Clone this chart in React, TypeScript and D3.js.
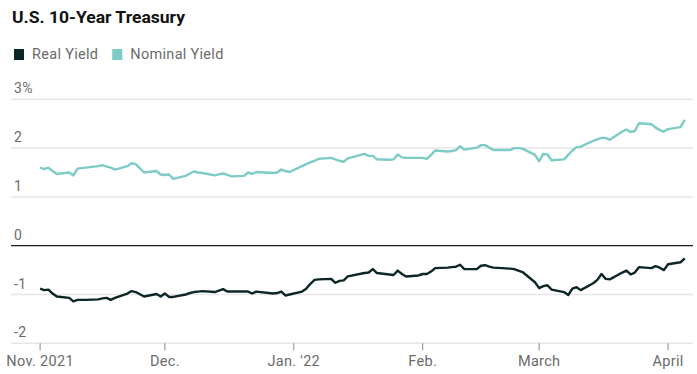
import { useEffect, useRef } from 'react';
import * as d3 from 'd3';

// trading days, Nov 1 2021 - Apr 5 2022
const dates = [
  '2021-11-01', '2021-11-02', '2021-11-03', '2021-11-04', '2021-11-05', '2021-11-08', '2021-11-09', '2021-11-10',
  '2021-11-12', '2021-11-15', '2021-11-16', '2021-11-17', '2021-11-18', '2021-11-19', '2021-11-22', '2021-11-23',
  '2021-11-24', '2021-11-26', '2021-11-29', '2021-11-30',
  '2021-12-01', '2021-12-02', '2021-12-03', '2021-12-06', '2021-12-07', '2021-12-08', '2021-12-09', '2021-12-10',
  '2021-12-13', '2021-12-14', '2021-12-15', '2021-12-16', '2021-12-17', '2021-12-20', '2021-12-21', '2021-12-22',
  '2021-12-23', '2021-12-27', '2021-12-28', '2021-12-29', '2021-12-30', '2021-12-31',
  '2022-01-03', '2022-01-04', '2022-01-05', '2022-01-06', '2022-01-07', '2022-01-10', '2022-01-11', '2022-01-12',
  '2022-01-13', '2022-01-14', '2022-01-18', '2022-01-19', '2022-01-20', '2022-01-21', '2022-01-24', '2022-01-25',
  '2022-01-26', '2022-01-27', '2022-01-28', '2022-01-31',
  '2022-02-01', '2022-02-02', '2022-02-03', '2022-02-04', '2022-02-07', '2022-02-08', '2022-02-09', '2022-02-10',
  '2022-02-11', '2022-02-14', '2022-02-15', '2022-02-16', '2022-02-17', '2022-02-18', '2022-02-22', '2022-02-23',
  '2022-02-24', '2022-02-25', '2022-02-28',
  '2022-03-01', '2022-03-02', '2022-03-03', '2022-03-04', '2022-03-07', '2022-03-08', '2022-03-09', '2022-03-10',
  '2022-03-11', '2022-03-14', '2022-03-15', '2022-03-16', '2022-03-17', '2022-03-18', '2022-03-21', '2022-03-22',
  '2022-03-23', '2022-03-24', '2022-03-25', '2022-03-28', '2022-03-29', '2022-03-30', '2022-03-31',
  '2022-04-01', '2022-04-04', '2022-04-05',
];

const nominalYield = [
  1.60, 1.57, 1.60, 1.53, 1.47, 1.50, 1.44, 1.58, 1.60, 1.63, 1.65, 1.62, 1.60, 1.56, 1.63, 1.69, 1.67, 1.50, 1.53, 1.46,
  1.45, 1.46, 1.37, 1.43, 1.48, 1.52, 1.50, 1.49, 1.44, 1.46, 1.48, 1.45, 1.42, 1.43, 1.50, 1.47, 1.51, 1.49, 1.50, 1.56,
  1.53, 1.51,
  1.63, 1.67, 1.71, 1.74, 1.78, 1.80, 1.77, 1.74, 1.72, 1.79, 1.88, 1.84, 1.84, 1.77, 1.76, 1.77, 1.87, 1.81, 1.80, 1.80,
  1.80, 1.78, 1.86, 1.95, 1.93, 1.94, 1.96, 2.04, 1.97, 2.01, 2.06, 2.06, 2.01, 1.96, 1.96, 2.00, 2.00, 1.99, 1.86,
  1.73, 1.88, 1.87, 1.75, 1.77, 1.86, 1.95, 2.02, 2.03, 2.15, 2.18, 2.21, 2.21, 2.17, 2.34, 2.38, 2.33, 2.35, 2.51, 2.49,
  2.42, 2.37, 2.34,
  2.39, 2.43, 2.58,
];

const realYield = [
  -0.88, -0.91, -0.90, -0.98, -1.04, -1.07, -1.14, -1.11, -1.11, -1.10, -1.08, -1.07, -1.11, -1.07, -0.98, -0.93, -0.95,
  -1.04, -0.99, -1.04,
  -0.98, -1.05, -1.05, -1.00, -0.97, -0.95, -0.94, -0.93, -0.95, -0.92, -0.89, -0.94, -0.94, -0.94, -0.94, -0.98, -0.94,
  -0.98, -0.97, -0.94, -1.02, -1.00,
  -0.94, -0.88, -0.78, -0.70, -0.69, -0.68, -0.76, -0.72, -0.71, -0.63, -0.56, -0.55, -0.48, -0.56, -0.59, -0.60, -0.51,
  -0.58, -0.63, -0.61,
  -0.58, -0.58, -0.53, -0.46, -0.45, -0.44, -0.43, -0.39, -0.48, -0.48, -0.41, -0.40, -0.43, -0.45, -0.47, -0.48, -0.51,
  -0.54, -0.75,
  -0.87, -0.83, -0.81, -0.90, -0.95, -1.01, -0.88, -0.85, -0.91, -0.77, -0.70, -0.58, -0.68, -0.69, -0.55, -0.51, -0.59,
  -0.55, -0.44, -0.46, -0.42, -0.45, -0.50,
  -0.38, -0.34, -0.26,
];

const yTicks = [3, 2, 1, 0, -1, -2];
const xTickDates = ['2021-11-01', '2021-12-01', '2022-01-01', '2022-02-01', '2022-03-01', '2022-04-01'];
const xTickLabels = ['Nov. 2021', 'Dec.', "Jan. '22", 'Feb.', 'March', 'April'];

const series = [
  { name: 'Real Yield', values: realYield, color: '#0c2527' },
  { name: 'Nominal Yield', values: nominalYield, color: '#7ccbc4' },
];

const parse = d3.timeParse('%Y-%m-%d');

export default function App() {
  const svgRef = useRef<SVGSVGElement>(null);

  useEffect(() => {
    if (!svgRef.current) return;
    const svg = d3.select(svgRef.current);
    svg.selectAll('*').remove();

    const font = 'Roboto, "Liberation Sans", sans-serif';
    const left = 11;
    const right = 693;

    const x = d3
      .scaleTime()
      .domain([new Date(2021, 9, 25), new Date(2022, 3, 7)])
      .range([left, right]);

    const y = d3.scaleLinear().domain([-2, 3]).range([343.3, 99.3]);

    // title
    svg
      .append('text')
      .attr('x', 12)
      .attr('y', 23)
      .text('U.S. 10-Year Treasury')
      .attr('font-family', font)
      .attr('font-weight', 700)
      .attr('font-size', '17px')
      .attr('textLength', 173)
      .attr('lengthAdjust', 'spacingAndGlyphs')
      .attr('fill', '#111');

    // legend
    let lx = 14;
    series.forEach((s) => {
      svg.append('rect').attr('x', lx).attr('y', 49).attr('width', 10).attr('height', 11).attr('fill', s.color);
      const t = svg
        .append('text')
        .attr('x', lx + 18)
        .attr('y', 59)
        .text(s.name)
        .attr('font-family', font)
        .attr('font-size', '14.5px')
        .attr('letter-spacing', '0.3px')
        .attr('fill', '#6b6b6b');
      lx += 18 + (t.node() as SVGTextElement).getComputedTextLength() + 14;
    });

    // gridlines + y labels
    yTicks.forEach((v) => {
      svg
        .append('line')
        .attr('x1', left)
        .attr('x2', right)
        .attr('y1', y(v))
        .attr('y2', y(v))
        .attr('stroke', v === 0 ? '#1a1a1a' : '#e6e6e6')
        .attr('stroke-width', v === 0 ? 1.3 : 1.5);
      svg
        .append('text')
        .attr('x', 14)
        .attr('y', y(v) - 6)
        .text(v === 3 ? '3%' : String(v))
        .attr('font-family', font)
        .attr('font-size', '14px')
        .attr('letter-spacing', '0.4px')
        .attr('fill', '#6b6b6b');
    });

    // x axis ticks
    xTickDates.forEach((d, i) => {
      const px = x(parse(d)!);
      svg
        .append('line')
        .attr('x1', px)
        .attr('x2', px)
        .attr('y1', y(-2))
        .attr('y2', y(-2) + 7)
        .attr('stroke', '#888')
        .attr('stroke-width', 1);
      svg
        .append('text')
        .attr('x', px)
        .attr('y', 366)
        .attr('text-anchor', 'middle')
        .text(xTickLabels[i])
        .attr('font-family', font)
        .attr('font-size', '14.5px')
        .attr('letter-spacing', '0.3px')
        .attr('fill', '#6b6b6b');
    });

    // lines
    const line = d3
      .line<number>()
      .x((_, i) => x(parse(dates[i])!))
      .y((d) => y(d));

    series.forEach((s) => {
      svg
        .append('path')
        .datum(s.values)
        .attr('d', line)
        .attr('fill', 'none')
        .attr('stroke', s.color)
        .attr('stroke-width', 2.4)
        .attr('stroke-linejoin', 'round');
    });
  }, []);

  return (
    <svg
      ref={svgRef}
      width={697}
      height={374}
      style={{ position: 'fixed', top: 0, left: 0, background: '#fff' }}
    />
  );
}
